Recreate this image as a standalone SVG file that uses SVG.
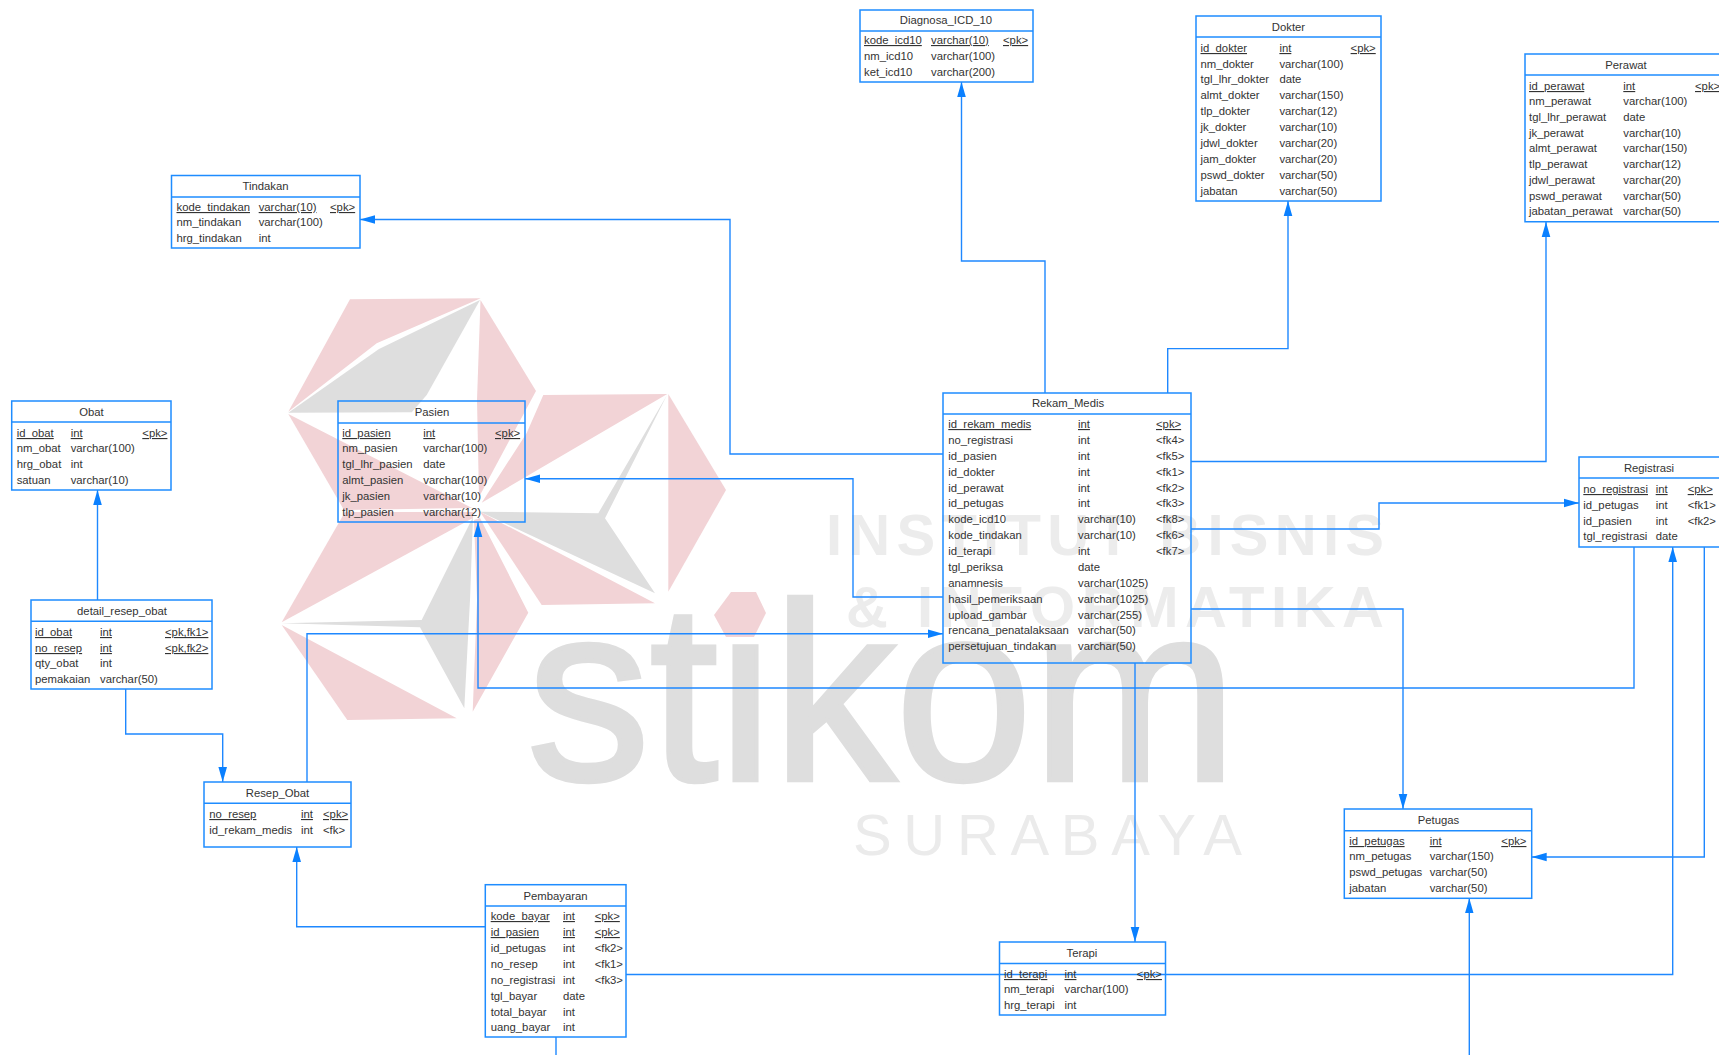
<svg xmlns="http://www.w3.org/2000/svg" width="1719" height="1055" viewBox="0 0 1719 1055">
<style>
text{font-family:"Liberation Sans",Arial,sans-serif;font-size:11.3px;fill:#333}
.t{text-anchor:middle}
.pk{text-decoration:underline}
.b{fill:none;stroke:#1e8cff;stroke-width:1.5}
.h{stroke:#1e8cff;stroke-width:1.5}
.c{fill:none;stroke:#1e88ff;stroke-width:1.4}
.p{fill:#f2d3d6}
.g{fill:#dedede}
.wm{font-weight:700;font-size:58px;fill:#ececec}
.big{font-size:252px;fill:#dedede;stroke:#dedede;stroke-width:4.5px}
.sb{font-size:58px;fill:#ebebeb}
</style>
<defs>
<marker id="a" markerUnits="userSpaceOnUse" markerWidth="16" markerHeight="10" refX="15" refY="5" orient="auto"><path d="M0,0.7L15,5L0,9.3Z" fill="#0a80ff"/></marker>
</defs>
<g id="watermark">
<polygon class="p" points="350,299.3 480.7,298.3 376.7,343.3 288.3,411.7"/>
<polygon class="g" points="288.3,412.7 379,349 480,300 426.7,395 411.7,412.3"/>
<polygon class="p" points="480.5,300 536,391 479,497 477,400"/>
<polygon class="p" points="288.3,414 472,508 344,510"/>
<polygon class="p" points="345,512 473,512 473,518 281.7,622.3"/>
<polygon class="g" points="281.7,623.3 421.7,620 473,517 470,600 464.3,708.3 420,627.3"/>
<polygon class="p" points="281.7,625 456.7,718.3 347.3,720"/>
<polygon class="p" points="480,518 528.3,612.7 472.7,711.7 477,600 474,520"/>
<polygon class="p" points="543.3,395 667.3,394 481.7,502.7 526.7,433"/>
<polygon class="g" points="667,395 605,518.3 655,593.3 480,511.7 598.3,513.3"/>
<polygon class="p" points="668.3,394 726,490 668.3,591.7"/>
<polygon class="p" points="480,511.7 655,603.3 541.7,605"/>
<text class="big" x="527" y="780" textLength="710" lengthAdjust="spacingAndGlyphs">stikom</text>
<polygon points="705,613 725,585 762,585 772,613 760,642 722,642" fill="#fff"/>
<polygon class="p" points="714,615 731,592 756,592 766,613 754,637 726,637"/>
<text class="wm" x="826" y="555" textLength="558" lengthAdjust="spacing">INSTITUT BISNIS</text>
<text class="wm" x="846" y="627" textLength="538" lengthAdjust="spacing">&amp; INFORMATIKA</text>
<text class="sb" x="853" y="855" textLength="389" lengthAdjust="spacing">SURABAYA</text>
</g>
<g id="connectors">
<path class="c" marker-end="url(#a)" d="M1045,393V261H961.5V82"/>
<path class="c" marker-end="url(#a)" d="M1167.7,393V348.6H1288V201"/>
<path class="c" marker-end="url(#a)" d="M1191,461.5H1546V222"/>
<path class="c" marker-end="url(#a)" d="M1191,529H1379V503H1579"/>
<path class="c" marker-end="url(#a)" d="M1191,609H1403V809"/>
<path class="c" marker-end="url(#a)" d="M1135,663V942"/>
<path class="c" marker-end="url(#a)" d="M943,597H853V478.7H525"/>
<path class="c" marker-end="url(#a)" d="M943,454H730V219.5H360"/>
<path class="c" marker-end="url(#a)" d="M307,782V633.7H943"/>
<path class="c" marker-end="url(#a)" d="M1634,547V688H478V522"/>
<path class="c" marker-end="url(#a)" d="M1704.3,547V857H1531.7"/>
<path class="c" marker-end="url(#a)" d="M626,974.5H1672.7V547"/>
<path class="c" marker-end="url(#a)" d="M485,926.7H296.7V847"/>
<path class="c" d="M556,1037V1055"/>
<path class="c" marker-end="url(#a)" d="M1469.3,1055V898.3"/>
<path class="c" marker-end="url(#a)" d="M97.5,600V490"/>
<path class="c" marker-end="url(#a)" d="M125.7,689V734H222.7V782"/>
</g>
<g id="Diagnosa_ICD_10">
<rect class="b" x="860" y="10" width="173" height="72"/><line class="h" x1="860" y1="31" x2="1033" y2="31"/>
<text class="t" x="946" y="24">Diagnosa_ICD_10</text>
<text class="pk" y="44"><tspan x="864">kode_icd10</tspan><tspan x="931">varchar(10)</tspan><tspan x="1003">&lt;pk&gt;</tspan></text>
<text y="60"><tspan x="864">nm_icd10</tspan><tspan x="931">varchar(100)</tspan></text>
<text y="76"><tspan x="864">ket_icd10</tspan><tspan x="931">varchar(200)</tspan></text>
</g>
<g id="Dokter">
<rect class="b" x="1196" y="16" width="185" height="185"/><line class="h" x1="1196" y1="37" x2="1381" y2="37"/>
<text class="t" x="1288.5" y="31">Dokter</text>
<text class="pk" y="52"><tspan x="1200.5">id_dokter</tspan><tspan x="1279.4">int</tspan><tspan x="1350.6">&lt;pk&gt;</tspan></text>
<text y="68"><tspan x="1200.5">nm_dokter</tspan><tspan x="1279.4">varchar(100)</tspan></text>
<text y="83"><tspan x="1200.5">tgl_lhr_dokter</tspan><tspan x="1279.4">date</tspan></text>
<text y="99"><tspan x="1200.5">almt_dokter</tspan><tspan x="1279.4">varchar(150)</tspan></text>
<text y="115"><tspan x="1200.5">tlp_dokter</tspan><tspan x="1279.4">varchar(12)</tspan></text>
<text y="131"><tspan x="1200.5">jk_dokter</tspan><tspan x="1279.4">varchar(10)</tspan></text>
<text y="147"><tspan x="1200.5">jdwl_dokter</tspan><tspan x="1279.4">varchar(20)</tspan></text>
<text y="163"><tspan x="1200.5">jam_dokter</tspan><tspan x="1279.4">varchar(20)</tspan></text>
<text y="179"><tspan x="1200.5">pswd_dokter</tspan><tspan x="1279.4">varchar(50)</tspan></text>
<text y="195"><tspan x="1200.5">jabatan</tspan><tspan x="1279.4">varchar(50)</tspan></text>
</g>
<g id="Perawat">
<path class="b" d="M1719,54H1525V221.7H1719"/><line class="h" x1="1525" y1="75" x2="1719" y2="75"/>
<text class="t" x="1626" y="69">Perawat</text>
<text class="pk" y="90"><tspan x="1529">id_perawat</tspan><tspan x="1623.3">int</tspan><tspan x="1695">&lt;pk&gt;</tspan></text>
<text y="105"><tspan x="1529">nm_perawat</tspan><tspan x="1623.3">varchar(100)</tspan></text>
<text y="121"><tspan x="1529">tgl_lhr_perawat</tspan><tspan x="1623.3">date</tspan></text>
<text y="137"><tspan x="1529">jk_perawat</tspan><tspan x="1623.3">varchar(10)</tspan></text>
<text y="152"><tspan x="1529">almt_perawat</tspan><tspan x="1623.3">varchar(150)</tspan></text>
<text y="168"><tspan x="1529">tlp_perawat</tspan><tspan x="1623.3">varchar(12)</tspan></text>
<text y="184"><tspan x="1529">jdwl_perawat</tspan><tspan x="1623.3">varchar(20)</tspan></text>
<text y="200"><tspan x="1529">pswd_perawat</tspan><tspan x="1623.3">varchar(50)</tspan></text>
<text y="215"><tspan x="1529">jabatan_perawat</tspan><tspan x="1623.3">varchar(50)</tspan></text>
</g>
<g id="Registrasi">
<path class="b" d="M1719,457H1579V547H1719"/><line class="h" x1="1579" y1="478" x2="1719" y2="478"/>
<text class="t" x="1649" y="472">Registrasi</text>
<text class="pk" y="493"><tspan x="1583.3">no_registrasi</tspan><tspan x="1655.7">int</tspan><tspan x="1687.7">&lt;pk&gt;</tspan></text>
<text y="509"><tspan x="1583.3">id_petugas</tspan><tspan x="1655.7">int</tspan><tspan x="1687.7">&lt;fk1&gt;</tspan></text>
<text y="525"><tspan x="1583.3">id_pasien</tspan><tspan x="1655.7">int</tspan><tspan x="1687.7">&lt;fk2&gt;</tspan></text>
<text y="540"><tspan x="1583.3">tgl_registrasi</tspan><tspan x="1655.7">date</tspan></text>
</g>
<g id="Tindakan">
<rect class="b" x="171.5" y="175.5" width="188.5" height="72.5"/><line class="h" x1="171.5" y1="197" x2="360" y2="197"/>
<text class="t" x="265.5" y="190">Tindakan</text>
<text class="pk" y="211"><tspan x="176.5">kode_tindakan</tspan><tspan x="258.7">varchar(10)</tspan><tspan x="330">&lt;pk&gt;</tspan></text>
<text y="226"><tspan x="176.5">nm_tindakan</tspan><tspan x="258.7">varchar(100)</tspan></text>
<text y="242"><tspan x="176.5">hrg_tindakan</tspan><tspan x="258.7">int</tspan></text>
</g>
<g id="Obat">
<rect class="b" x="11.7" y="401" width="159.3" height="89"/><line class="h" x1="11.7" y1="422" x2="171" y2="422"/>
<text class="t" x="91.5" y="416">Obat</text>
<text class="pk" y="437"><tspan x="16.7">id_obat</tspan><tspan x="70.7">int</tspan><tspan x="142.3">&lt;pk&gt;</tspan></text>
<text y="452"><tspan x="16.7">nm_obat</tspan><tspan x="70.7">varchar(100)</tspan></text>
<text y="468"><tspan x="16.7">hrg_obat</tspan><tspan x="70.7">int</tspan></text>
<text y="484"><tspan x="16.7">satuan</tspan><tspan x="70.7">varchar(10)</tspan></text>
</g>
<g id="Pasien">
<rect class="b" x="338" y="401" width="187" height="121"/><line class="h" x1="338" y1="423" x2="525" y2="423"/>
<text class="t" x="432" y="416">Pasien</text>
<text class="pk" y="437"><tspan x="342.3">id_pasien</tspan><tspan x="423.3">int</tspan><tspan x="495">&lt;pk&gt;</tspan></text>
<text y="452"><tspan x="342.3">nm_pasien</tspan><tspan x="423.3">varchar(100)</tspan></text>
<text y="468"><tspan x="342.3">tgl_lhr_pasien</tspan><tspan x="423.3">date</tspan></text>
<text y="484"><tspan x="342.3">almt_pasien</tspan><tspan x="423.3">varchar(100)</tspan></text>
<text y="500"><tspan x="342.3">jk_pasien</tspan><tspan x="423.3">varchar(10)</tspan></text>
<text y="516"><tspan x="342.3">tlp_pasien</tspan><tspan x="423.3">varchar(12)</tspan></text>
</g>
<g id="Rekam_Medis">
<rect class="b" x="943" y="393" width="248" height="270"/><line class="h" x1="943" y1="414" x2="1191" y2="414"/>
<text class="t" x="1068" y="407">Rekam_Medis</text>
<text class="pk" y="428"><tspan x="948.3">id_rekam_medis</tspan><tspan x="1078">int</tspan><tspan x="1156">&lt;pk&gt;</tspan></text>
<text y="444"><tspan x="948.3">no_registrasi</tspan><tspan x="1078">int</tspan><tspan x="1156">&lt;fk4&gt;</tspan></text>
<text y="460"><tspan x="948.3">id_pasien</tspan><tspan x="1078">int</tspan><tspan x="1156">&lt;fk5&gt;</tspan></text>
<text y="476"><tspan x="948.3">id_dokter</tspan><tspan x="1078">int</tspan><tspan x="1156">&lt;fk1&gt;</tspan></text>
<text y="492"><tspan x="948.3">id_perawat</tspan><tspan x="1078">int</tspan><tspan x="1156">&lt;fk2&gt;</tspan></text>
<text y="507"><tspan x="948.3">id_petugas</tspan><tspan x="1078">int</tspan><tspan x="1156">&lt;fk3&gt;</tspan></text>
<text y="523"><tspan x="948.3">kode_icd10</tspan><tspan x="1078">varchar(10)</tspan><tspan x="1156">&lt;fk8&gt;</tspan></text>
<text y="539"><tspan x="948.3">kode_tindakan</tspan><tspan x="1078">varchar(10)</tspan><tspan x="1156">&lt;fk6&gt;</tspan></text>
<text y="555"><tspan x="948.3">id_terapi</tspan><tspan x="1078">int</tspan><tspan x="1156">&lt;fk7&gt;</tspan></text>
<text y="571"><tspan x="948.3">tgl_periksa</tspan><tspan x="1078">date</tspan></text>
<text y="587"><tspan x="948.3">anamnesis</tspan><tspan x="1078">varchar(1025)</tspan></text>
<text y="603"><tspan x="948.3">hasil_pemeriksaan</tspan><tspan x="1078">varchar(1025)</tspan></text>
<text y="619"><tspan x="948.3">upload_gambar</tspan><tspan x="1078">varchar(255)</tspan></text>
<text y="634"><tspan x="948.3">rencana_penatalaksaan</tspan><tspan x="1078">varchar(50)</tspan></text>
<text y="650"><tspan x="948.3">persetujuan_tindakan</tspan><tspan x="1078">varchar(50)</tspan></text>
</g>
<g id="detail_resep_obat">
<rect class="b" x="31" y="600" width="181" height="89"/><line class="h" x1="31" y1="621.3" x2="212" y2="621.3"/>
<text class="t" x="122" y="615">detail_resep_obat</text>
<text class="pk" y="636"><tspan x="35">id_obat</tspan><tspan x="100">int</tspan><tspan x="165">&lt;pk,fk1&gt;</tspan></text>
<text class="pk" y="652"><tspan x="35">no_resep</tspan><tspan x="100">int</tspan><tspan x="165">&lt;pk,fk2&gt;</tspan></text>
<text y="667"><tspan x="35">qty_obat</tspan><tspan x="100">int</tspan></text>
<text y="683"><tspan x="35">pemakaian</tspan><tspan x="100">varchar(50)</tspan></text>
</g>
<g id="Resep_Obat">
<rect class="b" x="204" y="782" width="147" height="65"/><line class="h" x1="204" y1="803.3" x2="351" y2="803.3"/>
<text class="t" x="277.5" y="797">Resep_Obat</text>
<text class="pk" y="818"><tspan x="209.3">no_resep</tspan><tspan x="301">int</tspan><tspan x="323">&lt;pk&gt;</tspan></text>
<text y="834"><tspan x="209.3">id_rekam_medis</tspan><tspan x="301">int</tspan><tspan x="323">&lt;fk&gt;</tspan></text>
</g>
<g id="Pembayaran">
<rect class="b" x="485.3" y="884.7" width="140.7" height="152.3"/><line class="h" x1="485.3" y1="906" x2="626" y2="906"/>
<text class="t" x="555.5" y="900">Pembayaran</text>
<text class="pk" y="920"><tspan x="490.7">kode_bayar</tspan><tspan x="563">int</tspan><tspan x="594.7">&lt;pk&gt;</tspan></text>
<text class="pk" y="936"><tspan x="490.7">id_pasien</tspan><tspan x="563">int</tspan><tspan x="594.7">&lt;pk&gt;</tspan></text>
<text y="952"><tspan x="490.7">id_petugas</tspan><tspan x="563">int</tspan><tspan x="594.7">&lt;fk2&gt;</tspan></text>
<text y="968"><tspan x="490.7">no_resep</tspan><tspan x="563">int</tspan><tspan x="594.7">&lt;fk1&gt;</tspan></text>
<text y="984"><tspan x="490.7">no_registrasi</tspan><tspan x="563">int</tspan><tspan x="594.7">&lt;fk3&gt;</tspan></text>
<text y="1000"><tspan x="490.7">tgl_bayar</tspan><tspan x="563">date</tspan></text>
<text y="1016"><tspan x="490.7">total_bayar</tspan><tspan x="563">int</tspan></text>
<text y="1031"><tspan x="490.7">uang_bayar</tspan><tspan x="563">int</tspan></text>
</g>
<g id="Terapi">
<rect class="b" x="999.5" y="942" width="166" height="73"/><line class="h" x1="999.5" y1="963.6" x2="1165.5" y2="963.6"/>
<text class="t" x="1082" y="957">Terapi</text>
<text class="pk" y="978"><tspan x="1004">id_terapi</tspan><tspan x="1064.5">int</tspan><tspan x="1136.8">&lt;pk&gt;</tspan></text>
<text y="993"><tspan x="1004">nm_terapi</tspan><tspan x="1064.5">varchar(100)</tspan></text>
<text y="1009"><tspan x="1004">hrg_terapi</tspan><tspan x="1064.5">int</tspan></text>
</g>
<g id="Petugas">
<rect class="b" x="1344.3" y="809" width="187.4" height="89.3"/><line class="h" x1="1344.3" y1="830.7" x2="1531.7" y2="830.7"/>
<text class="t" x="1438.5" y="824">Petugas</text>
<text class="pk" y="845"><tspan x="1349.3">id_petugas</tspan><tspan x="1429.7">int</tspan><tspan x="1501.3">&lt;pk&gt;</tspan></text>
<text y="860"><tspan x="1349.3">nm_petugas</tspan><tspan x="1429.7">varchar(150)</tspan></text>
<text y="876"><tspan x="1349.3">pswd_petugas</tspan><tspan x="1429.7">varchar(50)</tspan></text>
<text y="892"><tspan x="1349.3">jabatan</tspan><tspan x="1429.7">varchar(50)</tspan></text>
</g>
</svg>
